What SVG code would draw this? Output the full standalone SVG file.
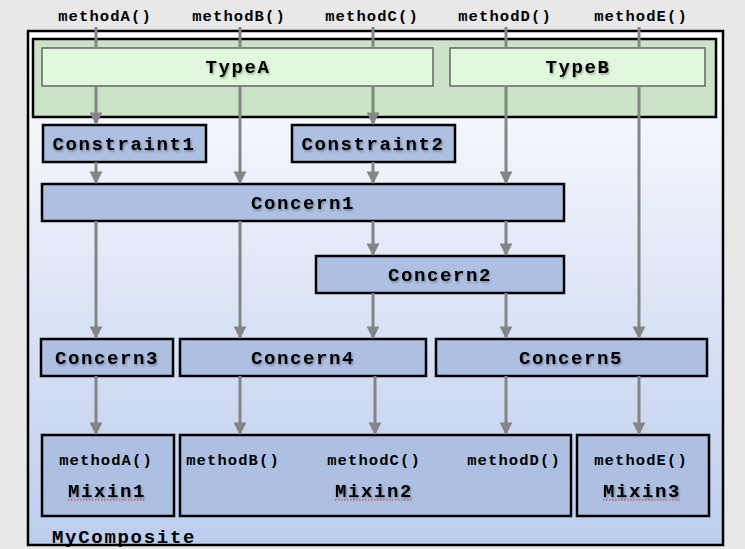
<svg xmlns="http://www.w3.org/2000/svg" width="745" height="549" viewBox="0 0 745 549">
<defs>
<linearGradient id="bg" x1="0" y1="0" x2="0" y2="1">
<stop offset="0" stop-color="#ffffff"/>
<stop offset="1" stop-color="#bccdee"/>
</linearGradient>
<marker id="ah" viewBox="0 0 10 10" refX="9" refY="5" markerWidth="4.3" markerHeight="4.3" orient="auto" markerUnits="strokeWidth">
<path d="M0,0 L10,5 L0,10 z" fill="#858585"/>
</marker>
<filter id="sh" x="-10%" y="-30%" width="120%" height="160%">
<feDropShadow dx="1" dy="1.5" stdDeviation="1.2" flood-color="#000" flood-opacity="0.35"/>
</filter>
</defs>
<style>
.mono{font-family:"Liberation Mono","Courier New",monospace;font-weight:bold;fill:#000}
.top{font-size:15.5px;letter-spacing:1.1px}
.big{font-size:19px;letter-spacing:1.6px}
.box{fill:#adc0e2;stroke:#000;stroke-width:2.5}
.type{fill:#e0f9dc;stroke:#666;stroke-width:1.5}
.ln{stroke:#858585;stroke-width:3;fill:none}
.arr{stroke:#858585;stroke-width:3;fill:none;marker-end:url(#ah)}
.sq{stroke:#e03030;stroke-width:1;stroke-dasharray:1.5 1.5;fill:none}
</style>
<rect x="0" y="0" width="745" height="549" fill="#e8e8e8"/>
<g id="MyComposite">
<rect x="28" y="31" width="695" height="514" fill="url(#bg)" stroke="#000" stroke-width="2.5"/>
<text class="mono" x="52" y="543" font-size="19" letter-spacing="1.7">MyComposite</text>
</g>
<g id="TypeGroup">
<rect x="33" y="39" width="683" height="78" fill="#cbe3c6" stroke="#000" stroke-width="2.5"/>
</g>
<g id="TypeA">
<rect class="type" x="42" y="48" width="391" height="38"/>
<text class="mono big" x="238" y="73" text-anchor="middle" filter="url(#sh)">TypeA</text>
</g>
<g id="TypeB">
<rect class="type" x="450" y="48" width="255" height="38"/>
<text class="mono big" x="578" y="73" text-anchor="middle" filter="url(#sh)">TypeB</text>
</g>
<g id="labels">
<text class="mono top" x="105" y="21" text-anchor="middle">methodA()</text>
<text class="mono top" x="239" y="21" text-anchor="middle">methodB()</text>
<text class="mono top" x="372" y="21" text-anchor="middle">methodC()</text>
<text class="mono top" x="505" y="21" text-anchor="middle">methodD()</text>
<text class="mono top" x="641" y="21" text-anchor="middle">methodE()</text>
</g>
<g id="Constraint1">
<rect class="box" x="43" y="125" width="163" height="37"/>
<text class="mono big" x="124" y="150" text-anchor="middle" filter="url(#sh)">Constraint1</text>
</g>
<g id="Constraint2">
<rect class="box" x="292" y="125" width="163" height="37"/>
<text class="mono big" x="373" y="150" text-anchor="middle" filter="url(#sh)">Constraint2</text>
</g>
<g id="Concern1">
<rect class="box" x="42" y="184" width="522" height="37"/>
<text class="mono big" x="303" y="209" text-anchor="middle" filter="url(#sh)">Concern1</text>
</g>
<g id="Concern2">
<rect class="box" x="316" y="256" width="248" height="37"/>
<text class="mono big" x="440" y="281" text-anchor="middle" filter="url(#sh)">Concern2</text>
</g>
<g id="Concern3">
<rect class="box" x="41" y="339" width="132" height="37"/>
<text class="mono big" x="107" y="364" text-anchor="middle" filter="url(#sh)">Concern3</text>
</g>
<g id="Concern4">
<rect class="box" x="180" y="339" width="246" height="37"/>
<text class="mono big" x="303" y="364" text-anchor="middle" filter="url(#sh)">Concern4</text>
</g>
<g id="Concern5">
<rect class="box" x="436" y="339" width="271" height="37"/>
<text class="mono big" x="571" y="364" text-anchor="middle" filter="url(#sh)">Concern5</text>
</g>
<g id="Mixin1">
<rect class="box" x="42" y="435" width="132" height="81"/>
<text class="mono top" x="106" y="465" text-anchor="middle">methodA()</text>
<text class="mono big" x="107" y="497" text-anchor="middle" filter="url(#sh)">Mixin1</text>
<path class="sq" d="M68,500 H146"/>
</g>
<g id="Mixin2">
<rect class="box" x="180" y="435" width="391" height="81"/>
<text class="mono top" x="233" y="465" text-anchor="middle">methodB()</text>
<text class="mono top" x="374" y="465" text-anchor="middle">methodC()</text>
<text class="mono top" x="514" y="465" text-anchor="middle">methodD()</text>
<text class="mono big" x="374" y="497" text-anchor="middle" filter="url(#sh)">Mixin2</text>
<path class="sq" d="M335,500 H413"/>
</g>
<g id="Mixin3">
<rect class="box" x="577" y="435" width="132" height="81"/>
<text class="mono top" x="641" y="465" text-anchor="middle">methodE()</text>
<text class="mono big" x="642" y="497" text-anchor="middle" filter="url(#sh)">Mixin3</text>
<path class="sq" d="M603,500 H681"/>
</g>
<g id="connectors">
<path class="ln" d="M96,27 V48 M240,27 V48 M373,27 V48 M506,27 V48 M639,27 V48"/>
<path class="arr" d="M96,86 V124"/>
<path class="arr" d="M96,162 V183"/>
<path class="arr" d="M96,221 V338"/>
<path class="arr" d="M96,376 V434"/>
<path class="arr" d="M240,86 V183"/>
<path class="arr" d="M240,221 V338"/>
<path class="arr" d="M240,376 V434"/>
<path class="arr" d="M373,86 V124"/>
<path class="arr" d="M373,162 V183"/>
<path class="arr" d="M373,221 V255"/>
<path class="arr" d="M373,293 V338"/>
<path class="arr" d="M375,376 V434"/>
<path class="arr" d="M506,86 V183"/>
<path class="arr" d="M506,221 V255"/>
<path class="arr" d="M506,293 V338"/>
<path class="arr" d="M506,376 V434"/>
<path class="arr" d="M639,86 V338"/>
<path class="arr" d="M639,376 V434"/>
</g>
</svg>
